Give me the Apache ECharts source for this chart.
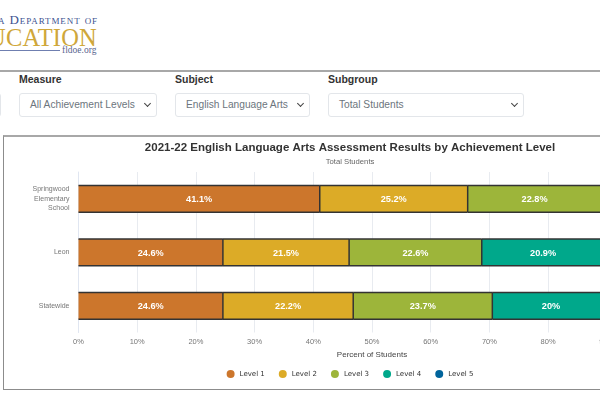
<!DOCTYPE html>
<html>
<head>
	<meta charset="utf-8">
	<title>Assessment Results</title>
	<script src="https://cdn.jsdelivr.net/npm/echarts@6/dist/echarts.min.js"></script>
	<style type="text/css">
		html, body { margin: 0; width: 600px; height: 400px; overflow: hidden; background: #fff; font-family: "Liberation Sans", Arial, sans-serif; }
		.abs { position: absolute; }
		.rule { left: 0; width: 600px; height: 0; border-top: 2px solid #a8a8a8; }
		.lbl { font-size: 10.5px; font-weight: bold; color: #333; }
		.sel { box-sizing: border-box; top: 93px; height: 24px; border: 1px solid #e3e6ea; border-radius: 3px; background: #fff; color: #6c757d; font-size: 10.2px; line-height: 22px; padding-left: 10px; }
		.sel:after { content: ""; position: absolute; right: 6px; top: 7px; width: 4px; height: 4px; border-right: 1.2px solid #444; border-bottom: 1.2px solid #444; transform: rotate(45deg); }
		#frame { left: 3px; top: 135px; width: 740px; height: 252px; border: 1px solid #8c8c8c; border-top: 2px solid #a8a8a8; }
		#eCharts-container { left: 3px; top: 136px; width: 694px; height: 252px; }
	</style>
</head>
	<body>
		<div class="abs" style="right:502px;top:12px;font-family:'Liberation Serif',serif;font-size:13px;letter-spacing:.9px;color:#3c5290;white-space:nowrap;font-variant:small-caps">a Department of</div>
		<div class="abs" style="right:503px;top:24px;font-family:'Liberation Serif',serif;font-size:24.5px;letter-spacing:.2px;color:#cfa73a;white-space:nowrap">UCATION</div>
		<div class="abs" style="left:0;top:50px;width:60px;border-top:1px solid #6f7fb0"></div>
		<div class="abs" style="left:62px;top:45px;font-family:'Liberation Serif',serif;font-size:9.5px;color:#5a6690">fldoe.org</div>

		<div class="abs rule" style="top:70px"></div>

		<div class="abs sel" style="left:-20px;width:21px"></div>
		<div class="abs lbl" style="left:19px;top:73px">Measure</div>
		<div class="abs sel" style="left:19px;width:138px">All Achievement Levels</div>
		<div class="abs lbl" style="left:175px;top:73px">Subject</div>
		<div class="abs sel" style="left:175px;width:135px">English Language Arts</div>
		<div class="abs lbl" style="left:328px;top:73px">Subgroup</div>
		<div class="abs sel" style="left:328px;width:196px">Total Students</div>

		<div id="frame" class="abs"></div>
		<div id="eCharts-container" class="abs"></div>
	<script type="text/javascript">
		var categories = ['Springwood\nElementary\nSchool', 'Leon', 'Statewide'];
		var level_names = ['Level 1', 'Level 2', 'Level 3', 'Level 4', 'Level 5'];
		var level_colors = ['#cc762c', '#dcab27', '#9db53a', '#00a88b', '#00649c'];
		var level1 = [41.1, 24.6, 24.6];
		var level2 = [25.2, 21.5, 22.2];
		var level3 = [22.8, 22.6, 23.7];
		// level 4 for the school and all of level 5 are cut off by the page edge, estimated
		var level4 = [8.2, 20.9, 20];
		var level5 = [2.7, 10.4, 9.5];
		var level_values = [level1, level2, level3, level4, level5];

		var font = '"Liberation Sans", Arial, sans-serif';
		var myChart = echarts.init(document.getElementById('eCharts-container'));
		var series_data = [];
		for (var x = 0; x < level_names.length; x++) {
			series_data.push({
				name: level_names[x],
				type: 'bar',
				stack: 'total',
				barWidth: '50%',
				data: level_values[x],
				itemStyle: {color: level_colors[x]},
				label: {
					show: true,
					position: 'inside',
					offset: [0, 1],
					color: '#fff',
					fontFamily: font,
					fontSize: 9.2,
					fontWeight: 'bold',
					formatter: function(p) { return p.value + '%'; }
				}
			});
		}

		// the dark outline has a top, a bottom and a right edge only, no left edge
		var outline_data = [];
		for (var y = 0; y < categories.length; y++) {
			var total = 0;
			for (var x = 0; x < level_values.length; x++) {
				outline_data.push([total, total + level_values[x][y], y]);
				total += level_values[x][y];
			}
		}
		series_data.push({
			type: 'custom',
			silent: true,
			z: 5,
			data: outline_data,
			encode: {x: [0, 1], y: 2},
			renderItem: function(params, api) {
				var start = api.coord([api.value(0), api.value(2)]);
				var end = api.coord([api.value(1), api.value(2)]);
				var half = api.size([0, 1])[1] * 0.25;
				var style = {stroke: '#333', lineWidth: 1.5, fill: null};
				return {
					type: 'group',
					children: [
						{type: 'line', shape: {x1: start[0], y1: start[1] - half, x2: end[0], y2: end[1] - half}, style: style},
						{type: 'line', shape: {x1: start[0], y1: start[1] + half, x2: end[0], y2: end[1] + half}, style: style},
						{type: 'line', shape: {x1: end[0], y1: end[1] - half, x2: end[0], y2: end[1] + half}, style: style}
					]
				};
			}
		});

		var option = {
			animation: false,
			color: level_colors,
			title: {
				text: '2021-22 English Language Arts Assessment Results by Achievement Level',
				subtext: 'Total Students',
				left: 'center',
				top: 1,
				itemGap: 4,
				textStyle: {fontFamily: font, fontSize: 11.5, fontWeight: 'bold', color: '#333'},
				subtextStyle: {fontFamily: font, fontSize: 7.7, color: '#666'}
			},
			legend: {
				data: level_names,
				bottom: 5,
				left: 'center',
				icon: 'circle',
				itemWidth: 8,
				itemHeight: 8,
				itemGap: 14,
				textStyle: {fontFamily: '"DejaVu Sans", sans-serif', fontSize: 7, color: '#333'}
			},
			grid: {left: 75.5, top: 36, width: 587, height: 160.5},
			xAxis: {
				type: 'value',
				min: 0,
				max: 100,
				interval: 10,
				name: 'Percent of Students',
				nameLocation: 'middle',
				nameGap: 16,
				nameTextStyle: {fontFamily: font, fontSize: 8, color: '#444'},
				axisLabel: {formatter: '{value}%', fontFamily: font, fontSize: 7.5, color: '#777', margin: 5},
				axisLine: {show: false},
				axisTick: {show: false},
				splitLine: {show: true, lineStyle: {color: '#e8ebf0', width: 1}}
			},
			yAxis: {
				type: 'category',
				inverse: true,
				data: categories,
				axisLabel: {fontFamily: font, fontSize: 7, color: '#777', lineHeight: 9.5, margin: 9, align: 'right', padding: [2, 0, 0, 0]},
				axisLine: {show: true, lineStyle: {color: '#e0e6f1'}},
				axisTick: {show: false}
			},
			series: series_data
		};
		myChart.setOption(option);
	</script>
	</body>
</html>
